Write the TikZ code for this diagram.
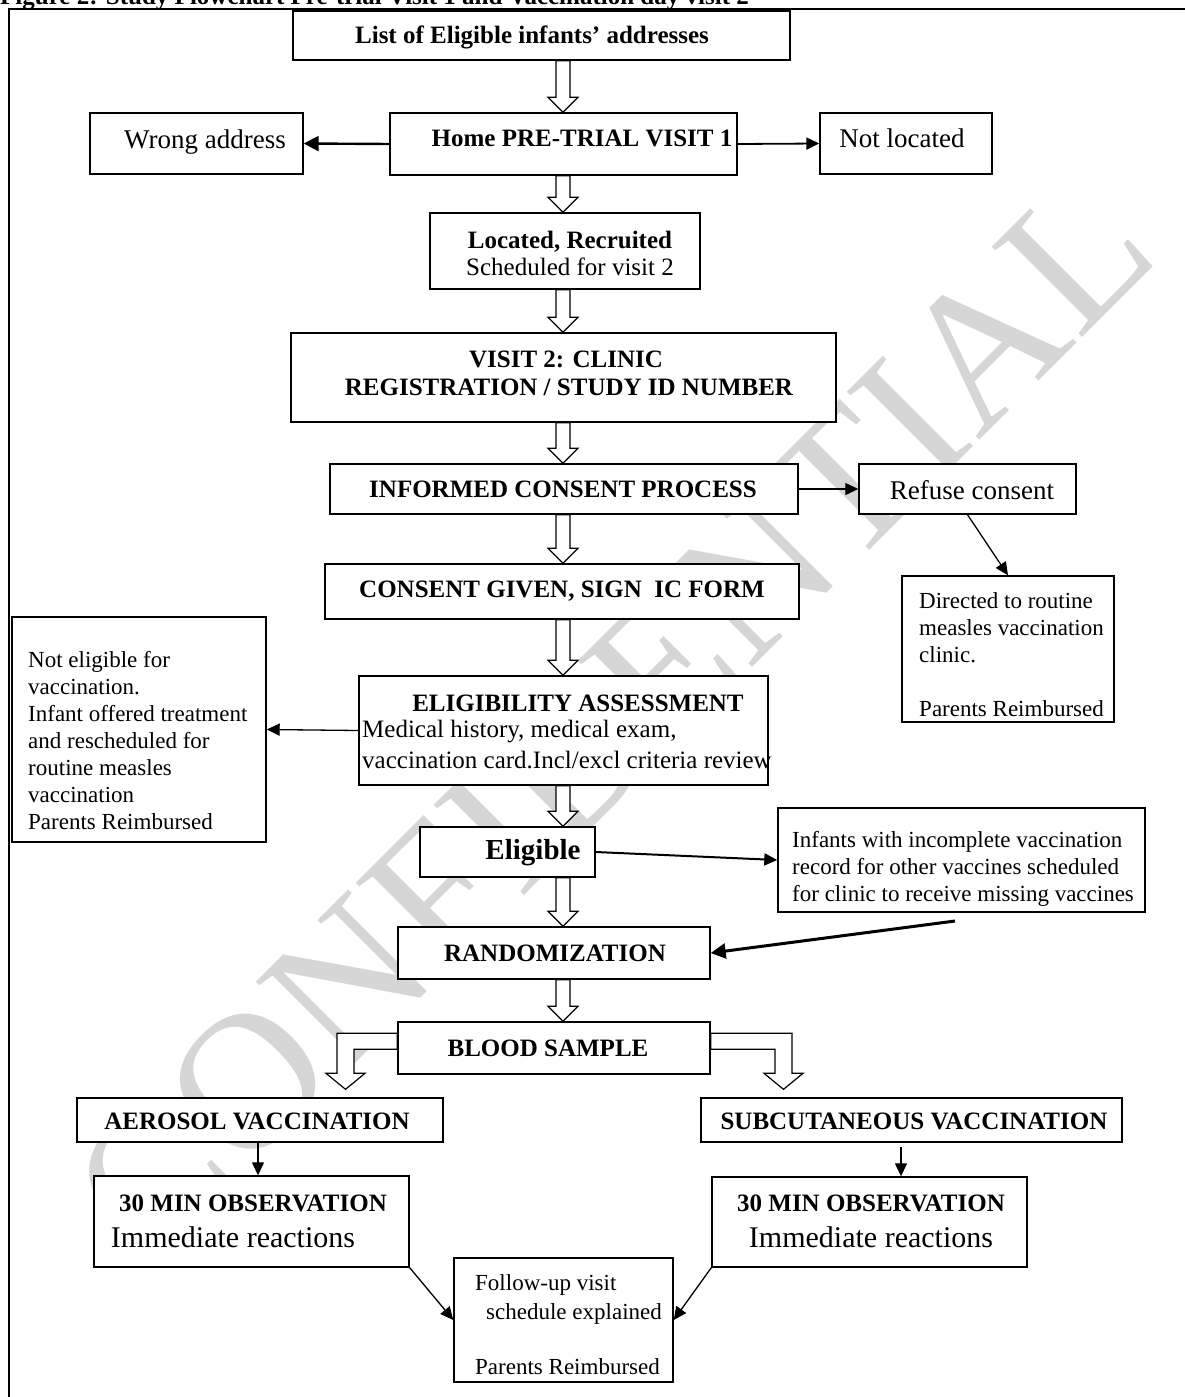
\documentclass[tikz,border=0pt]{standalone}
\usepackage{fontspec}
\setmainfont{Liberation Serif}
\usetikzlibrary{arrows.meta,fit,calc}

\newcommand\fHead{\fontsize{25}{29}\selectfont\bfseries}
\newcommand\fSmall{\fontsize{23}{27}\selectfont}
\newcommand\fMid{\fontsize{25}{29}\selectfont}
\newcommand\fBig{\fontsize{27}{32}\selectfont}
\newcommand\fHuge{\fontsize{30}{34}\selectfont}

\tikzset{
  box/.style={draw, line width=1.4pt, fill=white, inner sep=0pt},
  hd/.style={font=\fHead, inner sep=0pt},
  bigtxt/.style={font=\fBig, inner sep=0pt},
  para/.style={font=\fSmall, align=left, inner sep=0pt, anchor=north west},
  conn/.style={line width=1.3pt, -{Triangle[length=13pt,width=12pt]}},
  heavy/.style={line width=2.6pt, -{Triangle[length=15pt,width=15pt]}},
  hollow/.style={draw, line width=1.2pt, fill=white, line join=miter},
}

% open block arrow pointing down, drawn at column #1 from node #2 to node #3
\newcommand\hollowdown[3]{%
  \draw[hollow] let \p1=(#2.south), \p2=(#3.north) in
    (#1-7,\y1) -- (#1-7,\y2+15) -- (#1-15,\y2+15) -- (#1,\y2)
    -- (#1+15,\y2+15) -- (#1+7,\y2+15) -- (#1+7,\y1) -- cycle;}

\begin{document}
\begin{tikzpicture}[x=1pt,y=-1pt]
\path[use as bounding box] (0,0) rectangle (1185,1397);
\clip (0,0) rectangle (1185,1397);

% watermark
\node[rotate=45, text=black!16, font=\fontsize{195}{195}\selectfont,
      inner sep=0pt] (wm) at (612,718) {CONFIDENTIAL};

% heading and page frame
\node[hd, anchor=base west] (title) at (0,5)
  {Figure 2: Study Flowchart Pre-trial Visit 1 and Vaccination day visit 2};
\draw[line width=1.2pt] (1185,9) -- (9,9) -- (9,1397);

% boxes
\node[box, fit={(293,11) (790,60)}]    (list) {};
\node[box, fit={(390,113) (737,175)}]  (home) {};
\node[box, fit={(90,113) (303,174)}]   (wrong) {};
\node[box, fit={(820,113) (992,174)}]  (notloc) {};
\node[box, fit={(430,213) (700,289)}]  (located) {};
\node[box, fit={(291,333) (836,422)}]  (visit) {};
\node[box, fit={(330,464) (798,514)}]  (informed) {};
\node[box, fit={(859,464) (1076,514)}] (refuse) {};
\node[box, fit={(325,564) (799,619)}]  (consent) {};
\node[box, fit={(902,576) (1114,722)}] (directed) {};
\node[box, fit={(12,617) (266,842)}]   (noteli) {};
\node[box, fit={(359,676) (768,785)}]  (assess) {};
\node[box, fit={(420,827) (595,877)}]  (eligible) {};
\node[box, fit={(778,808) (1145,912)}] (infants) {};
\node[box, fit={(398,927) (710,979)}]  (random) {};
\node[box, fit={(398,1022) (710,1074)}] (blood) {};
\node[box, fit={(77,1098) (443,1142)}] (aero) {};
\node[box, fit={(701,1098) (1122,1142)}] (subcut) {};
\node[box, fit={(94,1176) (409,1267)}] (obsL) {};
\node[box, fit={(712,1177) (1027,1267)}] (obsR) {};
\node[box, fit={(454,1258) (673,1382)}] (follow) {};

% box texts
\node[hd] (listT) at (532,37) {List of Eligible infants' addresses};
\node[hd] (homeT) at (582,138) {Home PRE-TRIAL VISIT 1};
\node[bigtxt] (wrongT) at (205,142) {Wrong address};
\node[bigtxt] (notlocT) at (902,138) {Not located};
\node[hd] (locT1) at (570,242) {Located, Recruited};
\node[font=\fMid, inner sep=0pt] (locT2) at (570,267) {Scheduled for visit 2};
\node[hd] (visitT1) at (566,359) {VISIT 2: CLINIC};
\node[hd] (visitT2) at (569,387) {REGISTRATION / STUDY ID NUMBER};
\node[hd] (informedT) at (563,489) {INFORMED CONSENT PROCESS};
\node[bigtxt] (refuseT) at (972,490) {Refuse consent};
\node[hd] (consentT) at (562,591) {CONSENT GIVEN, SIGN~~IC FORM};
\node[para] (directedT) at (919,589)
  {\strut Directed to routine\\measles vaccination\\clinic.\\[27pt]Parents Reimbursed};
\node[para] (noteliT) at (28,648)
  {\strut Not eligible for\\vaccination.\\Infant offered treatment\\and rescheduled for\\routine measles\\vaccination\\Parents Reimbursed};
\node[hd] (assessT1) at (578,703) {ELIGIBILITY ASSESSMENT};
\node[font=\fMid, inner sep=0pt, anchor=west] (assessT2) at (362,732) {Medical history, medical exam,};
\node[font=\fMid, inner sep=0pt, anchor=west] (assessT3) at (362,760) {vaccination card.Incl/excl criteria review};
\node[font=\fontsize{29}{33}\selectfont\bfseries, inner sep=0pt] (eligibleT) at (533,853) {Eligible};
\node[para] (infantsT) at (792,828)
  {\strut Infants with incomplete vaccination\\record for other vaccines scheduled\\for clinic to receive missing vaccines};
\node[hd] (randomT) at (555,953) {RANDOMIZATION};
\node[hd] (bloodT) at (548,1048) {BLOOD SAMPLE};
\node[hd] (aeroT) at (257,1121) {AEROSOL VACCINATION};
\node[hd] (subcutT) at (914,1121) {SUBCUTANEOUS VACCINATION};
\node[hd] (obsLT1) at (253,1203) {30 MIN OBSERVATION};
\node[font=\fHuge, inner sep=0pt] (obsLT2) at (233,1237) {Immediate reactions};
\node[hd] (obsRT1) at (871,1203) {30 MIN OBSERVATION};
\node[font=\fHuge, inner sep=0pt] (obsRT2) at (871,1237) {Immediate reactions};
\node[font=\fSmall, inner sep=0pt, anchor=base west] (followT1) at (475,1290) {Follow-up visit};
\node[font=\fSmall, inner sep=0pt, anchor=base west] (followT2) at (486,1319) {schedule explained};
\node[font=\fSmall, inner sep=0pt, anchor=base west] (followT3) at (475,1374) {Parents Reimbursed};

% main column of open arrows
\hollowdown{563}{list}{home}
\hollowdown{563}{home}{located}
\hollowdown{563}{located}{visit}
\hollowdown{563}{visit}{informed}
\hollowdown{563}{informed}{consent}
\hollowdown{563}{consent}{assess}
\hollowdown{563}{assess}{eligible}
\hollowdown{563}{eligible}{random}
\hollowdown{563}{random}{blood}

% open elbow arrows from the blood sample to both arms
\draw[hollow] let \p1=(blood.north west), \p2=(aero.north) in
  (\x1,\y1-12) -- (337,\y1-12) -- (337,\y2+24) -- (326,\y2+24) -- (345.5,\y2+8)
  -- (365,\y2+24) -- (354,\y2+24) -- (354,\y1-28) -- (\x1,\y1-28) -- cycle;
\draw[hollow] let \p1=(blood.north east), \p2=(subcut.north) in
  (\x1,\y1-12) -- (792,\y1-12) -- (792,\y2+24) -- (803,\y2+24) -- (783.5,\y2+8)
  -- (764,\y2+24) -- (775,\y2+24) -- (775,\y1-28) -- (\x1,\y1-28) -- cycle;

% thin connectors
\draw[heavy, line width=2.4pt] (home.west) -- (wrong.east);
\draw[conn, line width=1.8pt] (home.east) -- (notloc.west);
\draw[conn] (informed.east) -- (refuse.west);
\draw[conn] (refuse.south) -- (directed.north);
\draw[conn] (assess.west) -- (noteli.east);
\draw[conn, line width=2pt] (eligible.east) -- (infants.west);
\coordinate (infTail) at (955,921);
\draw[heavy, line width=3pt] (infTail) -- (random.east);
\draw[conn] (aero.south -| 258,0) -- (obsL.north -| 258,0);
\coordinate (subTail) at (901,1147);
\draw[conn] (subTail) -- (obsR.north -| subTail);
\draw[conn] (obsL.south east) -- (follow.west);
\draw[conn] (obsR.south west) -- (follow.east);
\end{tikzpicture}
\end{document}
